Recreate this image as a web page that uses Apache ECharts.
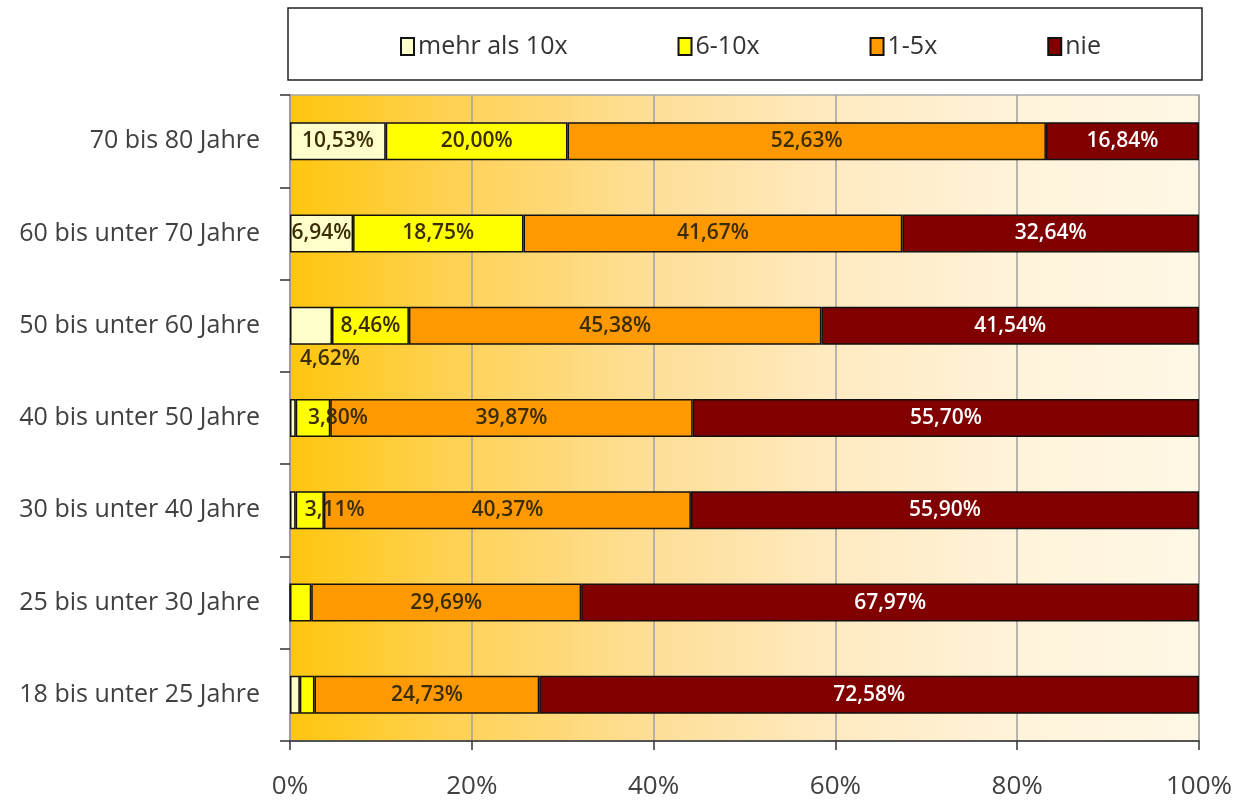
<!DOCTYPE html>
<html>
<head>
<meta charset="utf-8">
<script src="https://cdn.jsdelivr.net/npm/echarts@6/dist/echarts.min.js"></script>
<style>html,body{margin:0;padding:0;background:#fff;}#c{width:1239px;height:800px;}</style>
</head>
<body>
<div id="c"></div>
<script>
var categories = ['18 bis unter 25 Jahre','25 bis unter 30 Jahre','30 bis unter 40 Jahre','40 bis unter 50 Jahre','50 bis unter 60 Jahre','60 bis unter 70 Jahre','70 bis 80 Jahre'];
var seriesNames = ['mehr als 10x','6-10x','1-5x','nie'];
var mehrAls10 = [1.08, 0, 0.62, 0.63, 4.62, 6.94, 10.53];
var sechsBis10 = [1.61, 2.34, 3.11, 3.80, 8.46, 18.75, 20.00];
var einsBis5 = [24.73, 29.69, 40.37, 39.87, 45.38, 41.67, 52.63];
var nie = [72.58, 67.97, 55.90, 55.70, 41.54, 32.64, 16.84];
var xTicks = [0, 20, 40, 60, 80, 100];

var colors = ['#FFFFCC', '#FFFF00', '#FF9900', '#800000'];
var labelColors = ['#3a2c05', '#3a2c05', '#3a2c05', '#ffffff'];
var values = [mehrAls10, sechsBis10, einsBis5, nie];

function fmt(v){ return v.toFixed(2).replace('.', ',') + '%'; }

var series = seriesNames.map(function(name, si){
  return {
    name: name,
    type: 'bar',
    stack: 'total',
    barWidth: 38,
    itemStyle: { color: colors[si], borderColor: '#111', borderWidth: 1.5 },
    label: {
      show: true,
      position: 'inside',
      color: labelColors[si],
      fontFamily: 'Open Sans',
      fontSize: 21,
      fontWeight: 600,
      formatter: function(p){ return p.value < 3 ? '' : fmt(p.value); }
    },
    data: values[si].map(function(v, ci){
      var item = { value: v };
      if (si === 1 && (ci === 2 || ci === 3)) {
        item.label = { offset: [25, 0] };
      }
      if (si === 0 && ci === 4) {
        item.label = { position: 'bottom', distance: 4, offset: [19, 0] };
      }
      return item;
    })
  };
});

var chart = echarts.init(document.getElementById('c'));
chart.setOption({
  animation: false,
  graphic: [{
    type: 'rect',
    shape: { x: 288, y: 8, width: 914, height: 72 },
    style: { fill: '#fff', stroke: '#222', lineWidth: 1.5 },
    z: -1
  }],
  legend: {
    left: 395,
    top: 29,
    icon: 'rect',
    itemWidth: 13,
    itemHeight: 17,
    itemGap: 110,
    textStyle: { fontFamily: 'Open Sans', fontSize: 25, color: '#333', padding: [0,0,0,-1] },
    data: seriesNames
  },
  grid: {
    left: 290, right: 40, top: 95, bottom: 59,
    show: true,
    borderColor: '#a8a8a8',
    borderWidth: 1.5,
    backgroundColor: {
      type: 'linear', x: 0, y: 0, x2: 1, y2: 0,
      colorStops: [
        { offset: 0, color: '#FFC60E' },
        { offset: 0.2, color: '#FFD35C' },
        { offset: 0.4, color: '#FEDF98' },
        { offset: 0.6, color: '#FFEAC2' },
        { offset: 0.8, color: '#FFF3DA' },
        { offset: 1, color: '#FFF8E6' }
      ]
    }
  },
  xAxis: {
    type: 'value',
    min: xTicks[0],
    max: xTicks[xTicks.length - 1],
    interval: xTicks[1] - xTicks[0],
    axisLine: { show: true, lineStyle: { color: '#333', width: 1.5 } },
    axisTick: { show: true, length: 9, lineStyle: { color: '#333', width: 1.5 } },
    splitLine: { show: true, lineStyle: { color: '#a0a0a0', width: 1.5 } },
    axisLabel: {
      margin: 33,
      fontFamily: 'Open Sans',
      fontSize: 26,
      color: '#404040',
      formatter: function(v){ return v + '%'; }
    }
  },
  yAxis: {
    type: 'category',
    data: categories,
    axisLine: { show: true, lineStyle: { color: '#999', width: 1.5 } },
    axisTick: { show: true, length: 10, lineStyle: { color: '#333', width: 1.5 } },
    axisLabel: {
      margin: 30,
      fontFamily: 'Open Sans',
      fontSize: 25,
      color: '#404040'
    }
  },
  series: series
});
</script>
</body>
</html>
